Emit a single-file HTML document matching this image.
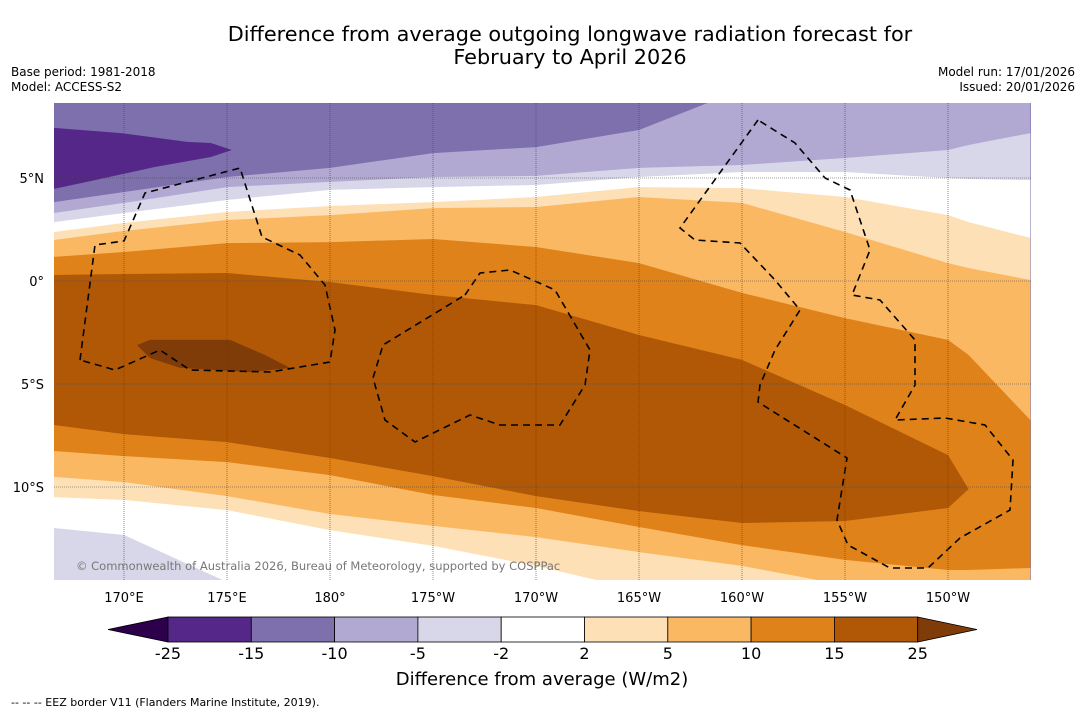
<!DOCTYPE html>
<html><head><meta charset="utf-8"><style>
body{margin:0;background:#fff;font-family:"DejaVu Sans","Liberation Sans",sans-serif;}
svg{display:block;font-family:"DejaVu Sans","Liberation Sans",sans-serif;}
</style></head><body>
<svg id="chart" width="1085" height="713" viewBox="0 0 1085 713" xmlns="http://www.w3.org/2000/svg">
<text x="570" y="41" font-size="20.8" text-anchor="middle" fill="#000">Difference from average outgoing longwave radiation forecast for</text>
<text x="570" y="64" font-size="20.8" text-anchor="middle" fill="#000">February to April 2026</text>
<text x="11" y="76" font-size="12">Base period: 1981-2018</text>
<text x="11" y="91" font-size="12">Model: ACCESS-S2</text>
<text x="1075" y="76" font-size="12" text-anchor="end">Model run: 17/01/2026</text>
<text x="1075" y="91" font-size="12" text-anchor="end">Issued: 20/01/2026</text>
<defs><clipPath id="mapclip"><rect x="54" y="103" width="977" height="477"/></clipPath></defs>
<g id="map" clip-path="url(#mapclip)"></g>
<g id="eez" clip-path="url(#mapclip)" fill="none" stroke="#000" stroke-width="1.6" stroke-dasharray="7,5">
<polyline points="80,360 95,245 124,241 145,193 240,168 262,237 300,255 325,285 335,330 330,362 270,372 190,370 160,350 115,370 80,360"/>
<polyline points="465,295 480,273 510,270 555,290 590,350 585,385 560,425 500,425 470,415 415,442 385,420 373,378 383,345 465,295"/>
<polyline points="758,120 680,228 695,240 740,243 775,280 800,310 775,350 760,385 758,402 847,458 837,520 848,545 890,568 928,568 960,538 1010,510 1013,460 985,425 945,418 895,420 915,385 915,340 880,300 852,295 870,250 850,190 825,178 795,143 758,120"/>
</g>
<g id="grid" clip-path="url(#mapclip)"></g>
<text x="76" y="570" font-size="11.5" fill="#777">© Commonwealth of Australia 2026, Bureau of Meteorology, supported by COSPPac</text>
<g id="axes"></g>
<g id="cbar"></g>
<text x="542" y="685" font-size="18" text-anchor="middle">Difference from average (W/m2)</text>
<text x="11" y="706" font-size="11">--  --  -- EEZ border V11 (Flanders Marine Institute, 2019).</text>
</svg>
<script>
const gridLon=[166.6,170,175,180,185,190,195,200,205,210,211.0,214];
const nMinus10=[3.83,4.32,5.05,5.49,6.21,6.50,7.33,9.3,9.3,9.3,9.3,9.3];
const sMinus10=[-16,-16,-16,-16,-16,-16,-16,-16,-16,-16,-16,-16];
const nMinus5=[3.30,3.79,4.56,4.81,5.05,5.10,5.49,5.63,5.97,6.36,6.60,7.18];
const sMinus5=[-16,-16,-16,-16,-16,-16,-16,-16,-16,-16,-16,-16];
const nMinus2=[2.86,3.30,3.93,4.42,4.56,4.66,5.05,5.29,5.29,5.00,4.95,4.90];
const sMinus2=[-11.99,-12.33,-14.61,-16,-16,-16,-16,-16,-16,-16,-16,-16];
const nPlus2=[2.38,2.82,3.35,3.64,3.83,4.08,4.56,4.51,4.08,3.20,2.86,2.09];
const sPlus2=[-10.49,-10.63,-11.12,-12.09,-12.86,-13.83,-15,-16,-16,-16,-16,-16];
const nPlus5=[1.99,2.43,2.96,3.20,3.54,3.59,4.08,3.79,2.38,0.87,0.63,0.05];
const sPlus5=[-9.51,-9.76,-10.44,-11.31,-11.89,-12.43,-13.16,-13.83,-14.76,-16,-16,-16];
const nPlus10=[1.17,1.41,1.84,1.89,2.04,1.65,0.87,-0.58,-1.80,-2.86,-3.59,-6.75];
const sPlus10=[-8.25,-8.50,-8.79,-9.42,-10.39,-11.02,-11.94,-12.82,-13.54,-14.03,-14.03,-13.93];
const nPlus15=[0.29,0.34,0.39,-0.05,-0.68,-1.17,-2.62,-3.83,-6.02,-8.45,-10.1,-10.1];
const sPlus15=[-6.99,-7.43,-7.82,-8.59,-9.47,-10.44,-11.17,-11.75,-11.65,-11.02,-10.1,-10.1];
const lowBlobLon=[166.6,169.85,173.06,174.22,175.24,174.22,171.46,168.2,166.6];
const lowBlobLat=[7.43,7.18,6.75,6.70,6.36,6.02,5.53,4.81,4.47];
const highBlobLon=[170.63,171.26,175.15,176.84,178.06,176.12,172.72,171.26];
const highBlobLat=[-3.11,-2.86,-2.86,-3.59,-4.22,-4.42,-4.22,-3.74];
const lonTicks=[170,175,180,185,190,195,200,205,210];
const lonTickLabels=["170°E","175°E","180°","175°W","170°W","165°W","160°W","155°W","150°W"];
const latTicks=[5,0,-5,-10];
const latTickLabels=["5°N","0°","5°S","10°S"];
const cbarLevels=[-25,-15,-10,-5,-2,2,5,10,15,25];
const cbarColors=["#542788","#7d70ac","#b1a9d1","#d8d7ea","#ffffff","#fde0b5","#fbb863","#e0821a","#b05806"];

const NS="http://www.w3.org/2000/svg";
const xS=lon=>124+(lon-170)*20.6;
const yS=lat=>281-lat*20.6;
function mk(tag,attrs,parent){const e=document.createElementNS(NS,tag);for(const k in attrs)e.setAttribute(k,attrs[k]);parent.appendChild(e);return e;}
const map=document.getElementById('map');
const bg=mk('rect',{x:54,y:103,width:977,height:477,fill:"#7d70ac"},map);


function blob(lons,lats,fill,name){
  const pts=lons.map((l,i)=>xS(l).toFixed(1)+','+yS(lats[i]).toFixed(1)).join(' ');
  const p=mk('polygon',{points:pts,fill:fill},map);
  
  
}
function band(north,south,fill,name){
  const top=gridLon.map((l,i)=>xS(l).toFixed(1)+','+yS(north[i]).toFixed(1));
  const bot=gridLon.map((l,i)=>xS(l).toFixed(1)+','+yS(south[i]).toFixed(1)).reverse();
  const p=mk('polygon',{points:top.concat(bot).join(' '),fill:fill},map);
  
  
}
blob(lowBlobLon,lowBlobLat,"#542788",'band-below-minus15');
band(nMinus10,sMinus10,"#b1a9d1",'band-minus10-to-minus5');
band(nMinus5,sMinus5,"#d8d7ea",'band-minus5-to-minus2');
band(nMinus2,sMinus2,"#ffffff",'band-minus2-to-2');
band(nPlus2,sPlus2,"#fde0b5",'band-2-to-5');
band(nPlus5,sPlus5,"#fbb863",'band-5-to-10');
band(nPlus10,sPlus10,"#e0821a",'band-10-to-15');
band(nPlus15,sPlus15,"#b05806",'band-15-to-25');
blob(highBlobLon,highBlobLat,"#7f3b08",'band-above-25');

const grid=document.getElementById('grid');
const axes=document.getElementById('axes');
lonTicks.forEach((l,i)=>{
  const g=mk('line',{x1:xS(l),x2:xS(l),y1:103,y2:580,stroke:"#444","stroke-width":0.6,"stroke-dasharray":"1,1"},grid);
  
  
  const t=mk('text',{x:xS(l),y:602,"font-size":13,"text-anchor":"middle"},axes);
  t.textContent=lonTickLabels[i];
  
  
});
latTicks.forEach((l,i)=>{
  const g=mk('line',{x1:54,x2:1031,y1:yS(l),y2:yS(l),stroke:"#444","stroke-width":0.6,"stroke-dasharray":"1,1"},grid);
  
  
  const t=mk('text',{x:44,y:yS(l)+5,"font-size":13,"text-anchor":"end"},axes);
  t.textContent=latTickLabels[i];
  
  
});

const cb=document.getElementById('cbar');
const cx0=168,cw=83.3,cy=617,ch=25;
const lt=mk('polygon',{points:`${cx0},${cy} 108,${cy+ch/2} ${cx0},${cy+ch}`,fill:"#2d004b",stroke:"#000","stroke-width":0.8},cb);


cbarColors.forEach((c,i)=>{
  const r=mk('rect',{x:cx0+i*cw,y:cy,width:cw,height:ch,fill:c,stroke:"#000","stroke-width":0.8},cb);
  
  
});
const xe=cx0+cbarColors.length*cw;
const rt=mk('polygon',{points:`${xe},${cy} 977,${cy+ch/2} ${xe},${cy+ch}`,fill:"#7f3b08",stroke:"#000","stroke-width":0.8},cb);


cbarLevels.forEach((v,i)=>{
  const t=mk('text',{x:cx0+i*cw,y:659,"font-size":16,"text-anchor":"middle"},cb);
  t.textContent=v;
  
  
});
</script>
</body></html>
